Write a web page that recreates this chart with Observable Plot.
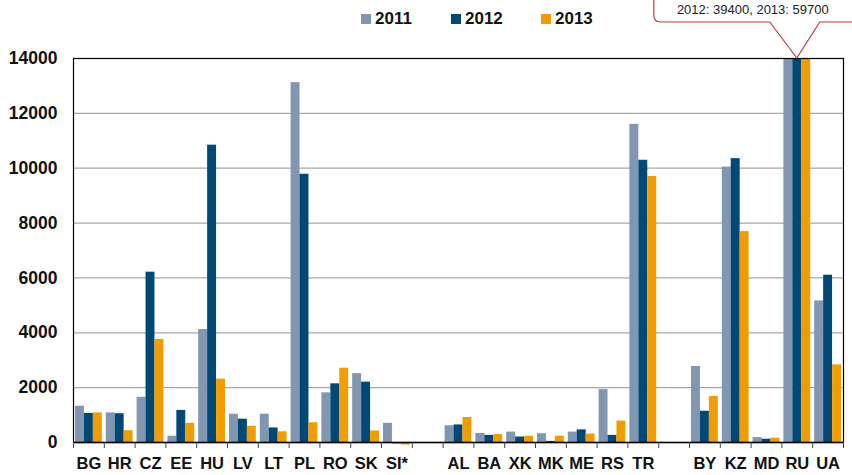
<!DOCTYPE html>
<html>
<head>
<meta charset="utf-8">
<script src="https://cdn.jsdelivr.net/npm/d3@7"></script>
<script src="https://cdn.jsdelivr.net/npm/@observablehq/plot@0.6"></script>
<style>
  body { margin: 0; background: #fff; }
  #wrap { position: relative; width: 852px; height: 475px; overflow: hidden; }
  #legend { position: absolute; top: 0; left: 0; width: 852px; height: 30px;
            font: bold 17px "Liberation Sans", Arial, sans-serif; color: #111; }
  .item { position: absolute; top: 9px; display: flex; align-items: center; line-height: 20px; }
  .sw { width: 10px; height: 10px; margin-right: 4px; }
</style>
</head>
<body>
<div id="wrap">
  <div id="chart"></div>
  <div id="legend"></div>
</div>
<script>
// ---- data ----
const categories = ["BG","HR","CZ","EE","HU","LV","LT","PL","RO","SK","SI*","gap1",
                    "AL","BA","XK","MK","ME","RS","TR","gap2",
                    "BY","KZ","MD","RU","UA"];
const tickLabels = ["BG","HR","CZ","EE","HU","LV","LT","PL","RO","SK","SI*","",
                    "AL","BA","XK","MK","ME","RS","TR","",
                    "BY","KZ","MD","RU","UA"];
const years = ["2011","2012","2013"];
const values2011 = [1320,1080,1650,230,4120,1030,1030,13120,1810,2510,700,null,
                    610,330,380,320,380,1930,11600,null,
                    2770,10040,180,39600,5160];
const values2012 = [1060,1050,6210,1170,10840,850,530,9780,2140,2200,-50,null,
                    640,260,200,40,460,260,10290,null,
                    1140,10350,120,39400,6100];
const values2013 = [1080,430,3760,700,2310,590,390,720,2710,420,-90,null,
                    910,290,230,230,310,780,9700,null,
                    1680,7690,160,59700,2830];
const yTicks = [0,2000,4000,6000,8000,10000,12000,14000];
const colors = ["#8096b1","#004876","#f19c00"];

// ---- layout ----
const W = 852, H = 475;
const mL = 73, mR = 9, mT = 58, mB = 33;
const yMax = 14000;
const bw = (W - mL - mR) / categories.length;
const groupPad = 2;
const barW = (bw - 2 * groupPad) / 3;

const series = [values2011, values2012, values2013];
const rows = categories.flatMap((c, i) =>
  years.map((yr, j) => ({category: c, year: yr, j, value: series[j][i]}))
).filter(d => d.value != null);

const labelOf = new Map(categories.map((c, i) => [c, tickLabels[i]]));

const chart = Plot.plot({
  width: W, height: H,
  marginLeft: mL, marginRight: mR, marginTop: mT, marginBottom: mB,
  style: {fontFamily: "'Liberation Sans', Arial, sans-serif", background: "#fff", overflow: "visible"},
  x: {domain: categories, padding: 0, round: false, axis: null, label: null},
  y: {domain: [0, yMax], axis: null, label: null},
  marks: [
    Plot.gridY(yTicks.filter(t => t > 0 && t < yMax), {stroke: "#a8a8a8", strokeOpacity: 1, strokeWidth: 1.2}),
    ...years.map((yr, j) => Plot.barY(rows.filter(d => d.j === j), {
      x: "category",
      y: d => Math.min(d.value, yMax),
      fill: colors[j],
      insetLeft: groupPad + j * barW,
      insetRight: groupPad + (2 - j) * barW
    })),
    Plot.frame({stroke: "#000", strokeWidth: 1.2}),
    Plot.ruleY([0], {stroke: "#000", strokeWidth: 1.5}),
    Plot.axisY({ticks: yTicks, tickSize: 0, tickPadding: 16, fontSize: 17.5, fontWeight: "bold",
                fill: "#111", tickFormat: d => String(d), label: null}),
    Plot.axisX({ticks: categories, tickSize: 6, dx: -bw / 2, text: null, stroke: "#444", label: null}),
    Plot.axisX({ticks: ["UA"], tickSize: 6, dx: bw / 2, text: null, stroke: "#444", label: null}),
    Plot.axisX({ticks: categories, tickSize: 0, tickPadding: 15, fontSize: 16.5, fontWeight: "bold",
                fill: "#111", tickFormat: d => labelOf.get(d), label: null})
  ]
});
document.getElementById("chart").appendChild(chart);

// ---- annotation for the clipped RU bars ----
const xs = chart.scale("x"), ys = chart.scale("y");
let xApply, yApply;
if (xs.apply) { xApply = v => xs.apply(v); } else {
  const s = d3.scaleBand(xs.domain, xs.range).paddingInner(xs.paddingInner || 0).paddingOuter(xs.paddingOuter || 0);
  xApply = v => s(v);
}
if (ys.apply) { yApply = v => ys.apply(v); } else {
  const s = d3.scaleLinear(ys.domain, ys.range); yApply = v => s(v);
}
const ruIdx = categories.indexOf("RU");
const ax = xApply("RU") + bw / 2;
const ay = yApply(yMax);
const L = ax - 143, R = ax + 60, B = ay - 36, T = -30, r = 7;
const svg = d3.select(chart);
const g = svg.append("g");
g.append("path")
  .attr("d", `M${ax - 27},${B} L${ax},${ay} L${ax + 23},${B} L${R - r},${B} Q${R},${B} ${R},${B - r} L${R},${T}
              L${L},${T} L${L},${B - r} Q${L},${B} ${L + r},${B} Z`)
  .attr("fill", "#fff").attr("stroke", "#c33a3f").attr("stroke-width", 1.2);
g.append("text")
  .attr("x", ax - 44).attr("y", ay - 44)
  .attr("text-anchor", "middle")
  .attr("font-size", 13).attr("font-weight", "normal").attr("fill", "#222")
  .attr("font-family", "'Liberation Sans', Arial, sans-serif")
  .text(`2012: ${values2012[ruIdx]}, 2013: ${values2013[ruIdx]}`);

// ---- legend ----
const legendX = [361, 451, 541];
const legend = document.getElementById("legend");
years.forEach((yr, j) => {
  const it = document.createElement("div");
  it.className = "item";
  it.style.left = legendX[j] + "px";
  it.innerHTML = `<span class="sw" style="background:${colors[j]}"></span><span>${yr}</span>`;
  legend.appendChild(it);
});
</script>
</body>
</html>
